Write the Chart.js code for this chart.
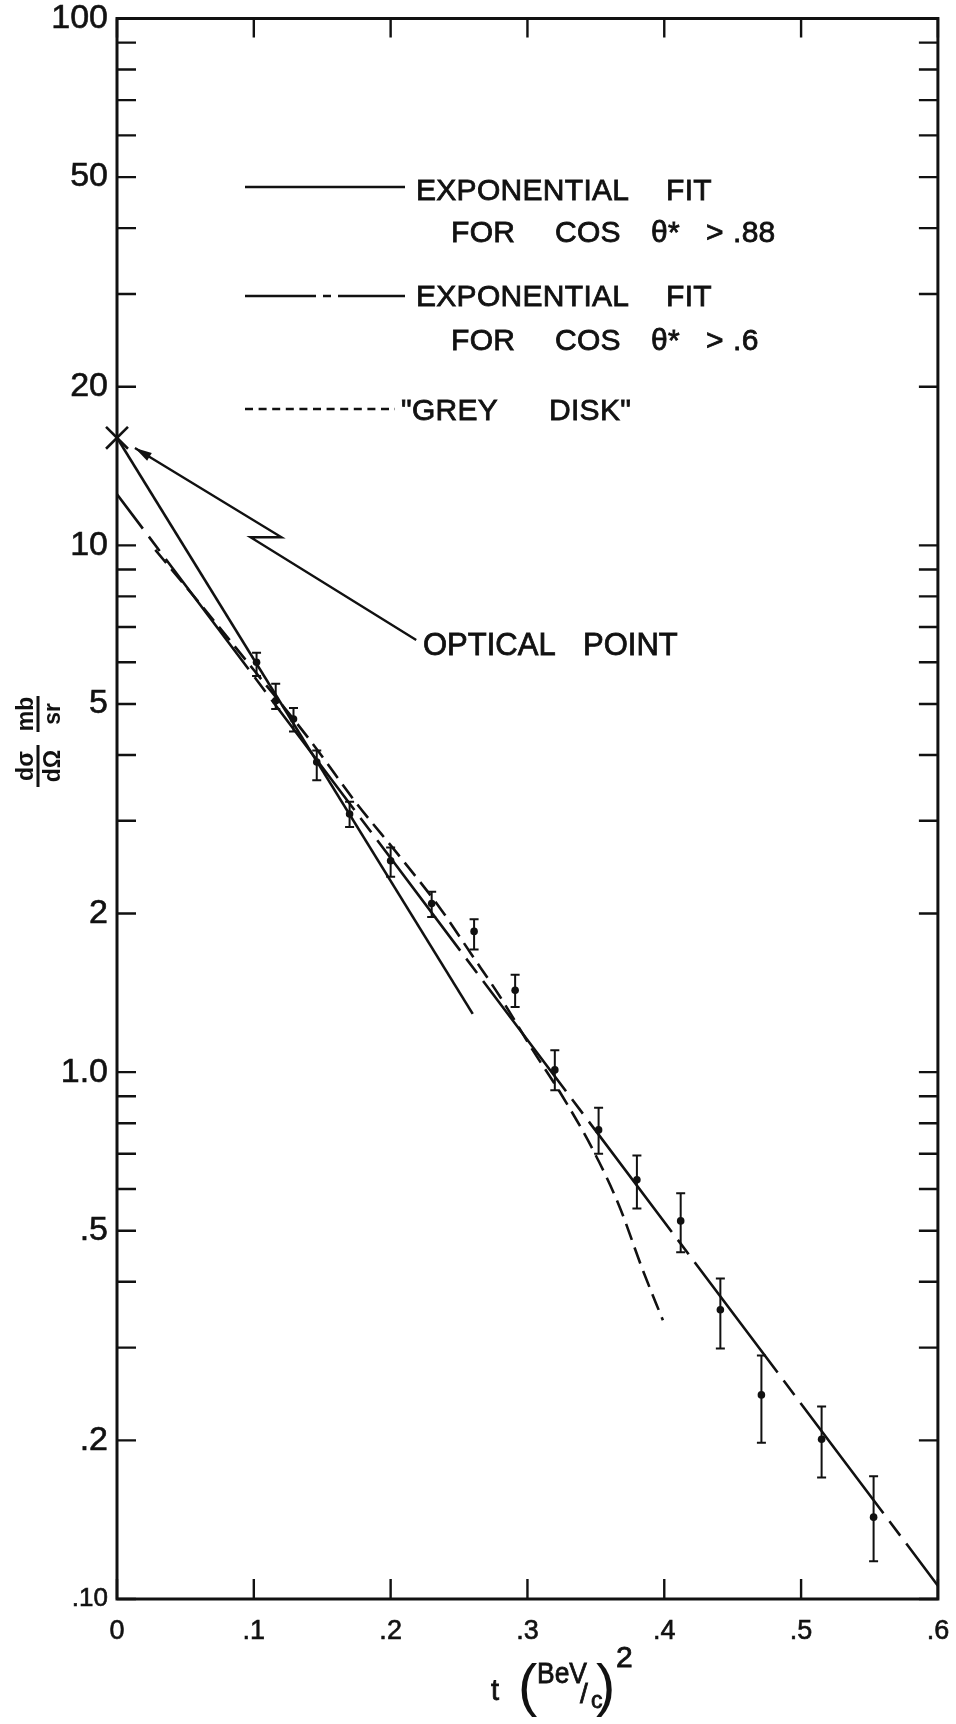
<!DOCTYPE html>
<html>
<head>
<meta charset="utf-8">
<script src="https://cdn.jsdelivr.net/npm/chart.js@4/dist/chart.umd.min.js"></script>
<style>
  html, body { margin: 0; padding: 0; background: #fff; }
  canvas { display: block; }
</style>
</head>
<body>
<canvas id="c" width="956" height="1724"></canvas>
<script>
// Measured differential cross section dσ/dΩ (mb/sr) versus t (BeV/c)^2
const tData   = [0.102, 0.116, 0.129, 0.146, 0.170, 0.200, 0.230, 0.261, 0.291,
                 0.320, 0.352, 0.380, 0.412, 0.441, 0.471, 0.515, 0.553];
const sigma   = [6.0, 5.07, 4.68, 3.88, 3.09, 2.52, 2.09, 1.85, 1.43,
                 1.01, 0.777, 0.625, 0.522, 0.354, 0.244, 0.201, 0.143];
const sigmaLo = [5.65, 4.89, 4.43, 3.58, 2.92, 2.35, 1.97, 1.71, 1.33,
                 0.924, 0.70, 0.551, 0.455, 0.299, 0.198, 0.170, 0.118];
const sigmaHi = [6.25, 5.46, 4.91, 4.08, 3.26, 2.67, 2.20, 1.95, 1.53,
                 1.10, 0.856, 0.695, 0.589, 0.406, 0.290, 0.232, 0.171];

// Exponential fits (straight lines on the log axis)
const fitNarrowT = [0, 0.26];
const fitNarrowY = [16.0, 1.29];
const fitWideT   = [0, 0.6];
const fitWideY   = [12.5, 0.106];

// "Grey disk" prediction
const greyT = [0.028, 0.058, 0.100, 0.141, 0.175, 0.207, 0.236, 0.260, 0.280,
               0.304, 0.325, 0.348, 0.367, 0.384, 0.399];
const greyY = [9.8, 7.9, 5.8, 4.27, 3.24, 2.56, 2.05, 1.66, 1.39,
               1.10, 0.905, 0.711, 0.558, 0.423, 0.338];

// Optical point at t = 0
const opticalT = [0];
const opticalY = [16.0];

// Leader line from the "OPTICAL POINT" note back to the optical point
const leaderT = [0.0131, 0.1202, 0.0976, 0.2187];
const leaderY = [15.3, 10.36, 10.36, 6.61];

// Axis ticks
const xTicks      = [0, 0.1, 0.2, 0.3, 0.4, 0.5, 0.6];
const xTickLabels = ['0', '.1', '.2', '.3', '.4', '.5', '.6'];
const yDecades    = [0.1, 1, 10];
const yMantissas  = [1, 2, 3, 4, 5, 6, 7, 8, 9];
const yLabelValues = [100, 50, 20, 10, 5, 2, 1, 0.5, 0.2, 0.1];
const yLabelTexts  = ['100', '50', '20', '10', '5', '2', '1.0', '.5', '.2', '.10'];

const INK = '#111';
const FONT = '"Liberation Sans", Arial, sans-serif';

const pts = (xs, ys) => xs.map((x, i) => ({ x: x, y: ys[i] }));

const yTickValues = [];
yDecades.forEach(d => yMantissas.forEach(m => yTickValues.push(+(d * m).toPrecision(6))));
yTickValues.push(100);

function yLabelFor(v) {
  const i = yLabelValues.findIndex(L => Math.abs(L - v) / L < 1e-6);
  return i >= 0 ? yLabelTexts[i] : '';
}
function xLabelFor(v) {
  const i = xTicks.findIndex(L => Math.abs(L - v) < 1e-9);
  return i >= 0 ? xTickLabels[i] : '';
}

// lettering: filled and lightly outlined for a pen-drawn weight
function letter(ctx, text, x, y, maxWidth) {
  if (maxWidth) { ctx.fillText(text, x, y, maxWidth); ctx.strokeText(text, x, y, maxWidth); }
  else { ctx.fillText(text, x, y); ctx.strokeText(text, x, y); }
}

const decorPlugin = {
  id: 'decor',
  beforeDraw(chart) {
    const c = chart.ctx;
    c.save();
    c.fillStyle = '#fff';
    c.fillRect(0, 0, chart.width, chart.height);
    c.restore();
  },
  afterDatasetsDraw(chart) {
    const { ctx, chartArea: a, scales: { x, y } } = chart;
    ctx.save();
    ctx.strokeStyle = INK;
    ctx.fillStyle = INK;
    ctx.lineCap = 'butt';

    // frame
    ctx.lineWidth = 3;
    ctx.strokeRect(a.left, a.top, a.right - a.left, a.bottom - a.top);

    // inward tick marks on all four sides
    ctx.lineWidth = 2.4;
    ctx.beginPath();
    y.ticks.forEach(t => {
      const py = y.getPixelForValue(t.value);
      ctx.moveTo(a.left, py);  ctx.lineTo(a.left + 19, py);
      ctx.moveTo(a.right, py); ctx.lineTo(a.right - 19, py);
    });
    x.ticks.forEach(t => {
      const px = x.getPixelForValue(t.value);
      ctx.moveTo(px, a.bottom); ctx.lineTo(px, a.bottom - 20);
      ctx.moveTo(px, a.top);    ctx.lineTo(px, a.top + 19);
    });
    ctx.stroke();

    // error bars
    ctx.lineWidth = 2;
    ctx.beginPath();
    tData.forEach((t, i) => {
      const px = x.getPixelForValue(t);
      const pLo = y.getPixelForValue(sigmaLo[i]);
      const pHi = y.getPixelForValue(sigmaHi[i]);
      ctx.moveTo(px, pHi); ctx.lineTo(px, pLo);
      ctx.moveTo(px - 4.5, pHi); ctx.lineTo(px + 4.5, pHi);
      ctx.moveTo(px - 4.5, pLo); ctx.lineTo(px + 4.5, pLo);
    });
    ctx.stroke();

    // leader with arrowhead to the optical point
    const lp = leaderT.map((t, i) => [x.getPixelForValue(t), y.getPixelForValue(leaderY[i])]);
    ctx.lineWidth = 2.4;
    ctx.beginPath();
    ctx.moveTo(lp[0][0], lp[0][1]);
    for (let i = 1; i < lp.length; i++) ctx.lineTo(lp[i][0], lp[i][1]);
    ctx.stroke();
    const dx = lp[0][0] - lp[1][0], dy = lp[0][1] - lp[1][1];
    const len = Math.hypot(dx, dy), ux = dx / len, uy = dy / len;
    ctx.beginPath();
    ctx.moveTo(lp[0][0], lp[0][1]);
    ctx.lineTo(lp[0][0] - ux * 17 - uy * 4.5, lp[0][1] - uy * 17 + ux * 4.5);
    ctx.lineTo(lp[0][0] - ux * 17 + uy * 4.5, lp[0][1] - uy * 17 - ux * 4.5);
    ctx.closePath();
    ctx.fill();

    ctx.textAlign = 'left';
    ctx.textBaseline = 'alphabetic';
    ctx.lineWidth = 0.8;
    ctx.font = '31px ' + FONT;
    letter(ctx, 'OPTICAL', 423, 655);
    letter(ctx, 'POINT', 583, 655);

    // key
    ctx.lineWidth = 2.4;
    ctx.beginPath();
    ctx.moveTo(245, 187); ctx.lineTo(405, 187);
    ctx.stroke();
    ctx.beginPath();
    ctx.moveTo(245, 296); ctx.lineTo(316, 296);
    ctx.moveTo(323, 296); ctx.lineTo(331, 296);
    ctx.moveTo(338, 296); ctx.lineTo(405, 296);
    ctx.stroke();
    ctx.setLineDash([8, 5.6]);
    ctx.beginPath();
    ctx.moveTo(245, 409); ctx.lineTo(395, 409);
    ctx.stroke();
    ctx.setLineDash([]);

    ctx.lineWidth = 0.8;
    ctx.font = '30px ' + FONT;
    ctx.letterSpacing = '0.3px';
    letter(ctx, 'EXPONENTIAL', 416, 200);
    letter(ctx, 'FIT', 666, 200);
    letter(ctx, 'FOR', 451, 242);
    letter(ctx, 'COS', 555, 242);
    letter(ctx, 'θ*', 651, 242);
    letter(ctx, '>', 706, 242);
    letter(ctx, '.88', 733, 242);
    letter(ctx, 'EXPONENTIAL', 416, 306);
    letter(ctx, 'FIT', 666, 306);
    letter(ctx, 'FOR', 451, 350);
    letter(ctx, 'COS', 555, 350);
    letter(ctx, 'θ*', 651, 350);
    letter(ctx, '>', 706, 350);
    letter(ctx, '.6', 733, 350);
    letter(ctx, '"GREY', 401, 420);
    letter(ctx, 'DISK"', 549, 420);
    ctx.letterSpacing = '0px';

    // x axis title: t (BeV/c)^2
    ctx.font = '29px ' + FONT;
    letter(ctx, 't', 491, 1700);
    ctx.font = '58px ' + FONT;
    ctx.fillText('(', 518, 1705);
    ctx.fillText(')', 596, 1705);
    ctx.font = '30px ' + FONT;
    letter(ctx, 'BeV', 537, 1683, 50);
    ctx.font = '28px ' + FONT;
    letter(ctx, '/', 580, 1703);
    ctx.font = '23px ' + FONT;
    letter(ctx, 'c', 591, 1708);
    ctx.font = '30px ' + FONT;
    letter(ctx, '2', 616, 1667);

    // y axis title: dσ/dΩ  mb/sr, turned to read upward
    ctx.translate(38, 740);
    ctx.rotate(-Math.PI / 2);
    ctx.font = 'bold 23px ' + FONT;
    ctx.textAlign = 'center';
    const fraction = (num, den, cx, half) => {
      ctx.fillText(num, cx, -5);
      ctx.fillText(den, cx, 22);
      ctx.fillRect(cx - half, -1.5, half * 2, 3);
    };
    fraction('dσ', 'dΩ', -26, 21);
    fraction('mb', 'sr', 26, 18);

    ctx.restore();
  }
};

new Chart(document.getElementById('c'), {
  type: 'scatter',
  data: {
    datasets: [
      {
        label: 'data',
        data: pts(tData, sigma),
        showLine: false,
        pointRadius: 3.8,
        pointBackgroundColor: INK,
        pointBorderWidth: 0
      },
      {
        label: 'Exponential fit for cos θ* > .88',
        data: pts(fitNarrowT, fitNarrowY),
        showLine: true,
        borderColor: INK,
        borderWidth: 2.6,
        pointRadius: 0
      },
      {
        label: 'Exponential fit for cos θ* > .6',
        data: pts(fitWideT, fitWideY),
        showLine: true,
        borderColor: INK,
        borderWidth: 2.6,
        borderDash: [138, 10, 18, 10],
        borderDashOffset: 95,
        borderCapStyle: 'butt',
        pointRadius: 0
      },
      {
        label: 'Grey disk',
        data: pts(greyT, greyY),
        showLine: true,
        borderColor: INK,
        borderWidth: 2.6,
        borderDash: [17, 8],
        borderCapStyle: 'butt',
        cubicInterpolationMode: 'monotone',
        pointRadius: 0
      },
      {
        label: 'Optical point',
        data: pts(opticalT, opticalY),
        showLine: false,
        pointStyle: 'crossRot',
        pointRadius: 15.5,
        borderColor: INK,
        borderWidth: 2.6,
        clip: false
      }
    ]
  },
  options: {
    responsive: false,
    animation: false,
    events: [],
    layout: { padding: { top: 18.5, right: 17, left: 0, bottom: 0 } },
    plugins: { legend: { display: false }, tooltip: { enabled: false } },
    scales: {
      x: {
        type: 'linear',
        min: 0,
        max: 0.6,
        grid: { display: false, drawTicks: false },
        border: { display: false },
        afterBuildTicks: s => { s.ticks = xTicks.map(v => ({ value: v })); },
        afterFit: s => { s.height = 125; s.paddingLeft = 0; s.paddingRight = 0; },
        ticks: {
          autoSkip: false,
          maxRotation: 0,
          padding: 16,
          color: INK,
          textStrokeColor: INK,
          textStrokeWidth: 0.6,
          font: { family: FONT, size: 27 },
          callback: v => xLabelFor(v)
        }
      },
      y: {
        type: 'logarithmic',
        min: 0.1,
        max: 100,
        grid: { display: false, drawTicks: false },
        border: { display: false },
        afterBuildTicks: s => { s.ticks = yTickValues.map(v => ({ value: v })); },
        afterFit: s => { s.width = 117; s.paddingTop = 0; s.paddingBottom = 0; },
        ticks: {
          autoSkip: false,
          padding: 9,
          color: INK,
          textStrokeColor: INK,
          textStrokeWidth: 0.6,
          font: c => ({ family: FONT, size: (c.tick && c.tick.value < 0.15) ? 26 : 34 }),
          callback: v => yLabelFor(v)
        }
      }
    }
  },
  plugins: [decorPlugin]
});
</script>
</body>
</html>
